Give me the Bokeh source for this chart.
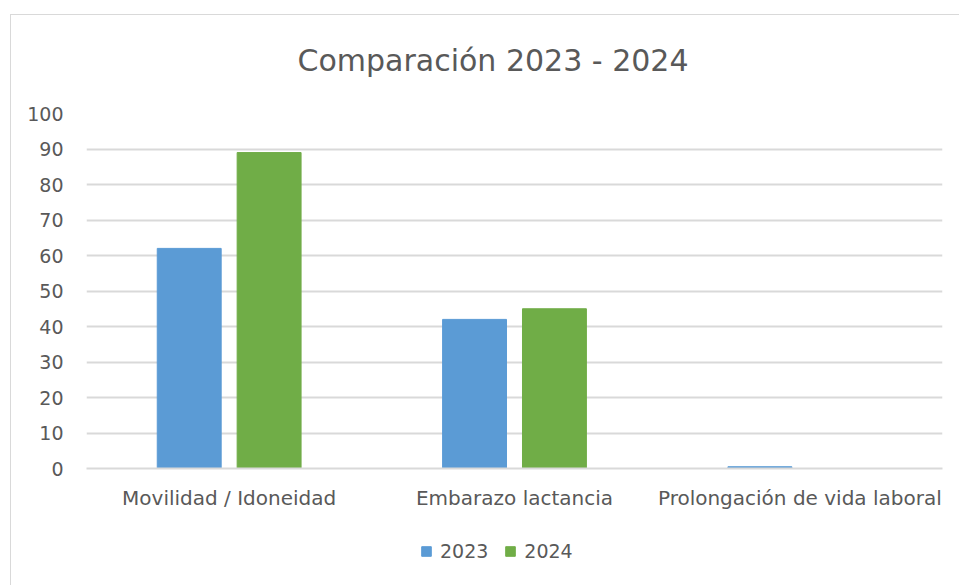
from bokeh.plotting import figure
from bokeh.layouts import column
from bokeh.models import FactorRange, Range1d, Legend, LegendItem, Label, ColumnDataSource, FixedTicker
from bokeh.transform import dodge
from bokeh.embed import file_html
from bokeh.resources import INLINE

categories = ["Movilidad / Idoneidad", "Embarazo lactancia", "Prolongación de vida laboral"]
series_names = ["2023", "2024"]
values_2023 = [62, 42, 0.5]
values_2024 = [89, 45, 0]
y_ticks = [0, 10, 20, 30, 40, 50, 60, 70, 80, 90, 100]
title_text = "Comparación 2023 - 2024"

FONT = "DejaVu Sans"
TEXT = "#595959"
GRID = "#d9d9d9"
BLUE = "#5B9BD5"
GREEN = "#70AD47"
COLORS = [BLUE, GREEN]

BORDER_L, BORDER_R = 75, 17


def strip(height, w=856):
    """A plain figure used only to hold text or a legend, with a 1:1 pixel scale."""
    f = figure(width=948, height=height, x_range=Range1d(0, w), y_range=Range1d(0, height),
               output_backend="svg", toolbar_location=None,
               min_border_left=BORDER_L, min_border_right=BORDER_R,
               min_border_top=0, min_border_bottom=0)
    f.axis.visible = False
    f.grid.visible = False
    f.outline_line_color = None
    f.background_fill_color = "white"
    f.border_fill_color = "white"
    return f


# title strip
head = strip(83)
head.add_layout(Label(x=211, y=38, text=title_text, text_align="left",
                      text_baseline="middle", text_font=FONT, text_font_size="30px",
                      text_color=TEXT))

# main chart
source = ColumnDataSource(dict(cat=categories, v2023=values_2023, v2024=values_2024))

p = figure(
    x_range=FactorRange(*categories),
    y_range=Range1d(0, 100),
    width=948, height=425,
    output_backend="svg",
    toolbar_location=None,
    min_border_left=BORDER_L, min_border_right=BORDER_R,
    min_border_top=15, min_border_bottom=55,
)
p.outline_line_color = None
p.background_fill_color = "white"
p.border_fill_color = "white"

p.vbar(x=dodge("cat", -0.14, range=p.x_range), top="v2023", width=0.224,
       source=source, fill_color=BLUE, line_color=BLUE)
p.vbar(x=dodge("cat", 0.14, range=p.x_range), top="v2024", width=0.224,
       source=source, fill_color=GREEN, line_color=GREEN)

# grid
p.xgrid.grid_line_color = None
p.ygrid.grid_line_color = GRID
p.ygrid.grid_line_width = 2
p.yaxis.ticker = FixedTicker(ticks=y_ticks)

# y axis
p.yaxis.axis_line_color = None
p.yaxis.major_tick_line_color = None
p.yaxis.minor_tick_line_color = None
p.yaxis.major_tick_out = 0
p.yaxis.major_tick_in = 0
p.yaxis.major_label_standoff = 23
p.yaxis.major_label_text_font = FONT
p.yaxis.major_label_text_font_size = "19px"
p.yaxis.major_label_text_color = TEXT

# x axis
p.xaxis.axis_line_color = GRID
p.xaxis.axis_line_width = 2
p.xaxis.major_tick_line_color = None
p.xaxis.minor_tick_line_color = None
p.xaxis.major_tick_out = 0
p.xaxis.major_tick_in = 0
p.xaxis.major_label_standoff = 17
p.xaxis.major_label_text_font = FONT
p.xaxis.major_label_text_font_size = "20px"
p.xaxis.major_label_text_color = TEXT

# legend strip under the chart
leg = strip(62)

# swatch renderers sit outside the visible range; only their legend entries show
items = []
for name, color in zip(series_names, COLORS):
    swatch = leg.vbar(x=[-50], top=[-50], bottom=[-60], width=5,
                      fill_color=color, line_color=color)
    items.append(LegendItem(label=name, renderers=[swatch]))

legend = Legend(items=items, orientation="horizontal", location=(334, 23),
                label_text_font=FONT, label_text_font_size="19px",
                label_text_color=TEXT, glyph_width=12, glyph_height=12,
                label_standoff=8, spacing=16, padding=0, margin=0,
                border_line_color=None, background_fill_alpha=0)
leg.add_layout(legend, "center")

page = column(head, p, leg, spacing=0, margin=(14, 0, 0, 10))
page.styles = {"border-left": "1px solid #d9d9d9", "border-top": "1px solid #d9d9d9"}

open("out.html", "w").write(file_html(page, INLINE))
